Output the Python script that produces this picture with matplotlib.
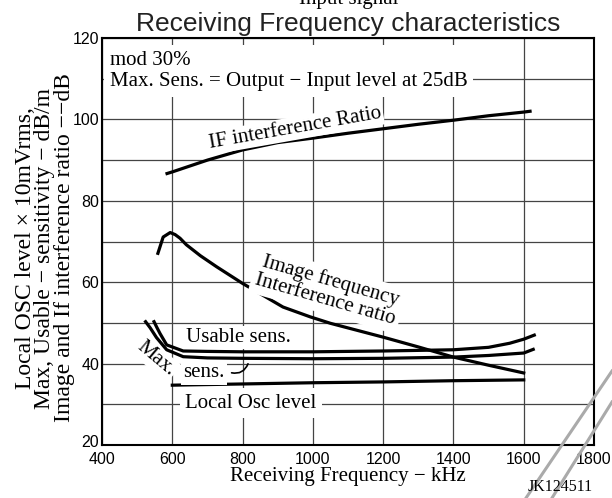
import matplotlib
matplotlib.use("Agg")
import matplotlib.pyplot as plt
import matplotlib.transforms as mtransforms
from matplotlib.lines import Line2D

# values
if_freq = [585, 600, 700, 800, 900, 1000, 1100, 1200, 1300, 1400, 1500, 1600, 1618]
if_ratio = [86.7, 87.1, 90.0, 92.5, 94.3, 95.4, 96.6, 97.7, 98.8, 99.8, 100.9, 101.8, 102.0]

img_freq = [559, 574, 594, 608, 622, 640, 680, 726, 800, 915, 992, 1050, 1200, 1300, 1400, 1500, 1600]
img_ratio = [67.1, 71.1, 72.2, 71.7, 70.8, 69.2, 66.5, 63.8, 59.7, 53.9, 51.5, 49.9, 46.5, 44.1, 41.6, 39.6, 37.7]

max_freq = [524, 537, 555, 584, 631, 700, 800, 1000, 1200, 1400, 1500, 1600, 1627]
max_sens = [50.3, 48.8, 46.4, 43.4, 41.7, 41.4, 41.3, 41.2, 41.3, 41.6, 42.0, 42.6, 43.5]

use_freq = [548, 556, 565, 584, 631, 700, 800, 1000, 1200, 1400, 1500, 1560, 1600, 1630]
use_sens = [50.3, 48.9, 47.4, 44.6, 43.1, 43.0, 42.9, 42.9, 43.1, 43.4, 44.0, 45.0, 46.0, 47.0]

osc_freq = [600, 800, 1000, 1200, 1400, 1600]
osc_level = [34.7, 35.0, 35.3, 35.5, 35.8, 36.0]

x_ticks = [400, 600, 800, 1000, 1200, 1400, 1600, 1800]
y_ticks = [20, 40, 60, 80, 100, 120]

serif = "Liberation Serif"
sans = "Liberation Sans"
white = dict(facecolor="white", edgecolor="none", pad=1.5)

fig = plt.figure(figsize=(6.12, 4.98), dpi=100)
ax = fig.add_axes([0.1667, 0.1064, 0.8039, 0.8173])

ax.set_xlim(400, 1800)
ax.set_ylim(20, 120)
ax.set_xticks(x_ticks)
ax.set_yticks(y_ticks)
ax.set_yticks(range(30, 120, 20), minor=True)
ax.grid(True, which="both", color="#444444", linewidth=0.9, zorder=0)
ax.tick_params(which="both", length=0)
ax.tick_params(axis="x", pad=5, labelsize=11.5)
ax.tick_params(axis="y", pad=2, labelsize=11.5)
for lab in ax.get_xticklabels() + ax.get_yticklabels():
    lab.set_fontfamily(sans)
for sp in ax.spines.values():
    sp.set_linewidth(1.5)

# the bottom "20" sits a little above its line in the original
lab20 = ax.get_yticklabels()[0]
lab20.set_transform(lab20.get_transform() +
                    mtransforms.ScaledTranslation(0, 3 / 72, fig.dpi_scale_trans))

lw = 2.3
ax.plot(if_freq, if_ratio, color="black", lw=lw, zorder=3)
ax.plot(img_freq, img_ratio, color="black", lw=lw, zorder=3)
ax.plot(max_freq, max_sens, color="black", lw=lw, zorder=3)
ax.plot(use_freq, use_sens, color="black", lw=lw, zorder=3)
ax.plot(osc_freq, osc_level, color="black", lw=lw, zorder=3)

fs = 15
ax.text(423, 111.9, "mod 30%\nMax. Sens. = Output \u2212 Input level at 25dB",
        ha="left", va="center", fontsize=fs, family=serif, linespacing=1.2,
        bbox=dict(facecolor="white", edgecolor="none", pad=4), zorder=4)
ax.text(949, 97.8, "IF interference Ratio", ha="center", va="center",
        rotation=10, fontsize=fs, family=serif, bbox=white, zorder=4)
ax.text(1043, 58.0, "Image frequency\nInterference ratio", ha="center", va="center",
        rotation=-16, fontsize=fs, family=serif, linespacing=1.0,
        bbox=dict(facecolor="white", edgecolor="none", pad=3), zorder=4)
ax.text(787, 46.4, "Usable sens.", ha="center", va="center", fontsize=fs,
        family=serif, bbox=white, zorder=4)
ax.text(553, 41.2, "Max.", ha="center", va="center", rotation=-40, fontsize=fs,
        family=serif, bbox=white, zorder=4)
ax.text(690, 37.7, "sens.", ha="center", va="center", fontsize=fs,
        family=serif, bbox=white, zorder=4)
ax.text(824, 30.3, "Local Osc level", ha="center", va="center", fontsize=fs,
        family=serif, bbox=dict(facecolor="white", edgecolor="none", pad=4), zorder=4)
ax.annotate("", xy=(818, 40.6), xytext=(761, 37.9),
            arrowprops=dict(arrowstyle="-", color="black", lw=1.2,
                            connectionstyle="arc3,rad=0.5"), zorder=4)

ax.set_xlabel("Receiving Frequency \u2212 kHz", fontsize=fs, family=serif, labelpad=0)
fig.text(0.0735, 0.502,
         "Local OSC level \u00d7 10mVrms,\nMax, Usable \u2212 sensitivity \u2212 dB/m\n"
         "Image and If interference ratio \u2212\u2212dB",
         rotation=90, ha="center", va="center", fontsize=17, family=serif,
         linespacing=0.9, multialignment="center")

fig.text(0.569, 0.938, "Receiving Frequency characteristics", ha="center",
         va="baseline", fontsize=19, family=sans, color="#222222")
fig.text(0.569, 0.992, "Input signal", ha="center", va="baseline",
         fontsize=15, family=serif)
fig.text(0.915, 0.022, "JK124511", ha="center", va="center", fontsize=11.5,
         family=serif)

# scanner streaks in the bottom-right corner
for x0, y0, x1, y1 in [(526, 498, 612, 371), (552, 498, 612, 402)]:
    fig.add_artist(Line2D([x0 / 612, x1 / 612], [1 - y0 / 498, 1 - y1 / 498],
                          transform=fig.transFigure, color="#aaaaaa", lw=2.2))

fig.savefig("out.png", dpi=100)
